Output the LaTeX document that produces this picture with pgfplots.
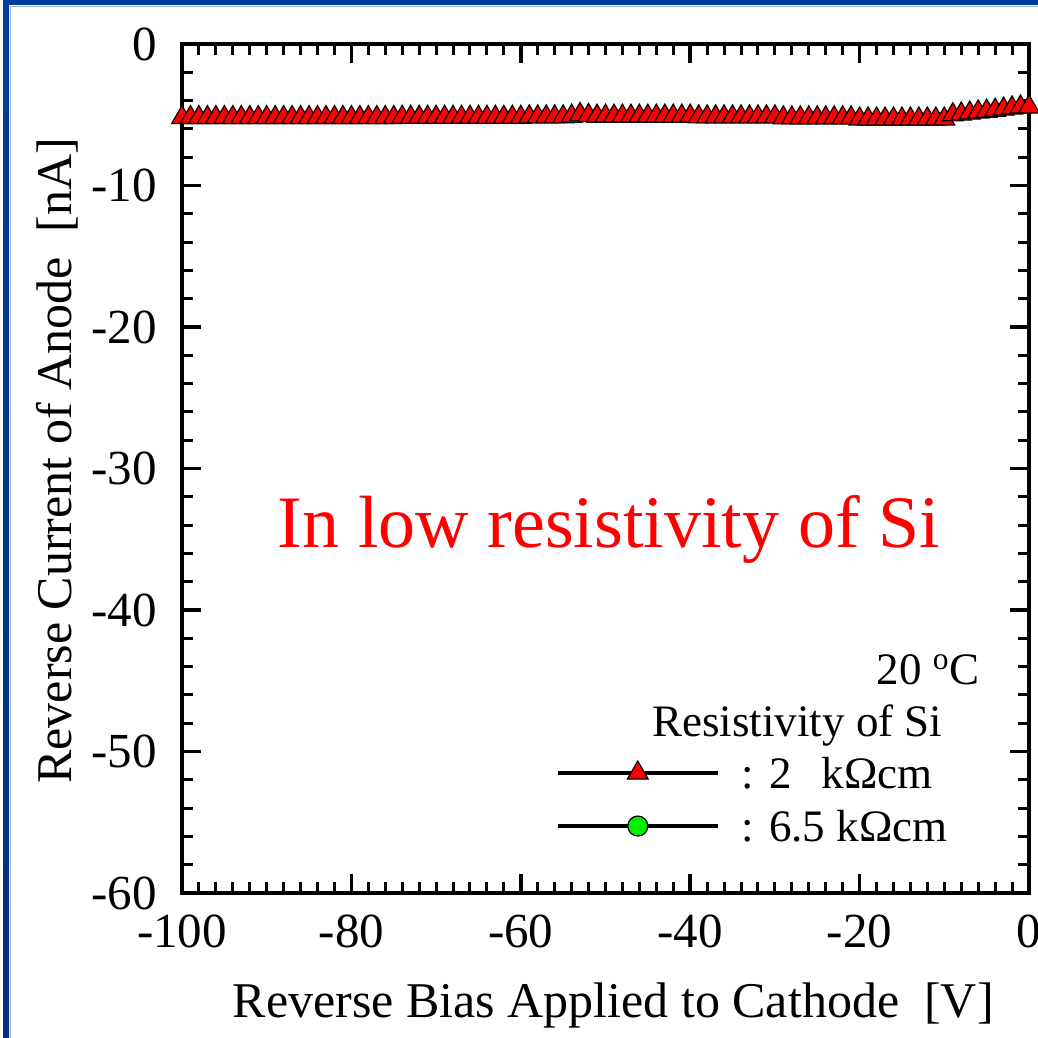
\documentclass[border=0pt]{standalone}
\usepackage{fontspec}
\setmainfont{Liberation Serif}
\usepackage{pgfplots}
\pgfplotsset{compat=1.18}
\definecolor{slideblue}{RGB}{0,62,155}
\definecolor{slidebluebright}{RGB}{0,90,225}
\definecolor{slidebluedark}{RGB}{0,48,120}
\definecolor{framegray}{RGB}{160,176,212}
\definecolor{lgreen}{RGB}{0,240,0}
\begin{document}
\begin{tikzpicture}
\path[use as bounding box] (0,0) rectangle (519pt,519pt);
\fill[white] (0,0) rectangle (519pt,519pt);
\shade[top color=slideblue, middle color=slidebluebright, bottom color=slidebluedark] (1.5pt,0pt) rectangle (4.5pt,519pt);
\fill[slideblue] (1.5pt,516.5pt) rectangle (519pt,519pt);
\fill[framegray] (5pt,0pt) rectangle (5.6pt,516pt);
\fill[framegray] (5pt,515.4pt) rectangle (519pt,516pt);
\begin{axis}[
  at={(91pt,72.5pt)}, anchor=south west,
  scale only axis, width=423.5pt, height=424.5pt,
  xmin=-100, xmax=0, ymin=-60, ymax=0,
  xtick={-100,-80,-60,-40,-20,0},
  xticklabels={-100,-80,-60,-40,-20,0},
  ytick={-60,-50,-40,-30,-20,-10,0},
  yticklabels={-60,-50,-40,-30,-20,-10,0},
  minor x tick num=9, minor y tick num=4,
  tick align=inside,
  major tick length=9.5pt, minor tick length=5.5pt,
  every major tick/.append style={black, line width=1.75pt},
  every minor tick/.append style={black, line width=1.5pt},
  axis line style={line width=2pt},
  ticklabel style={font=\fontsize{24.5}{29}\selectfont, inner sep=0pt},
  xticklabel style={anchor=north, yshift=-11pt},
  yticklabel style={anchor=east, xshift=-12.5pt},
  xlabel={Reverse Bias Applied to Cathode\ \ [V]},
  ylabel={Reverse Current of Anode\ \ [nA]},
  label style={font=\fontsize{25}{30}\selectfont, inner sep=0pt},
  xlabel style={at={(axis description cs:0.509,-0.1472)}, anchor=base},
  ylabel style={at={(axis description cs:-0.1299,0.509)}, anchor=base},
  legend style={draw=none, fill=none, at={(axis cs:-55.84,-50.18)}, anchor=north west,
    inner sep=0pt, outer sep=0pt, row sep=7.5pt, column sep=11pt,
    font=\fontsize{22.5}{27}\selectfont,
    nodes={inner sep=0pt, text height=17pt, text depth=2pt}},
  legend cell align=left,
  legend image code/.code={\draw[mark repeat=2, mark phase=2, #1] plot coordinates {(0pt,0pt) (40pt,0pt) (80pt,0pt)};},
]
\addplot[black, line width=1.2pt, mark=triangle*, mark size=6pt,
  mark options={fill=red, draw=black, line width=0.6pt, solid}, forget plot]
coordinates {
(-100,-5.2) (-99,-5.2) (-98,-5.2) (-97,-5.2) (-96,-5.2) (-95,-5.2) (-94,-5.2) (-93,-5.2) (-92,-5.2) (-91,-5.2)
(-90,-5.2) (-89,-5.2) (-88,-5.2) (-87,-5.2) (-86,-5.2) (-85,-5.2) (-84,-5.2) (-83,-5.2) (-82,-5.2) (-81,-5.2)
(-80,-5.2) (-79,-5.2) (-78,-5.2) (-77,-5.2) (-76,-5.2) (-75,-5.2) (-74,-5.18) (-73,-5.18) (-72,-5.18) (-71,-5.18)
(-70,-5.18) (-69,-5.18) (-68,-5.18) (-67,-5.18) (-66,-5.18) (-65,-5.18) (-64,-5.18) (-63,-5.18) (-62,-5.18) (-61,-5.18)
(-60,-5.18) (-59,-5.15) (-58,-5.15) (-57,-5.15) (-56,-5.15) (-55,-5.15) (-54,-5.1) (-53,-4.98) (-52,-5.05) (-51,-5.1)
(-50,-5.1) (-49,-5.1) (-48,-5.1) (-47,-5.1) (-46,-5.1) (-45,-5.1) (-44,-5.1) (-43,-5.1) (-42,-5.1) (-41,-5.1)
(-40,-5.1) (-39,-5.15) (-38,-5.15) (-37,-5.15) (-36,-5.15) (-35,-5.15) (-34,-5.15) (-33,-5.15) (-32,-5.15) (-31,-5.15)
(-30,-5.15) (-29,-5.22) (-28,-5.22) (-27,-5.22) (-26,-5.22) (-25,-5.22) (-24,-5.22) (-23,-5.22) (-22,-5.22) (-21,-5.22)
(-20,-5.3) (-19,-5.3) (-18,-5.3) (-17,-5.3) (-16,-5.3) (-15,-5.3) (-14,-5.3) (-13,-5.3) (-12,-5.3) (-11,-5.3)
(-10,-5.3) (-9,-5.0) (-8,-4.95) (-7,-4.88) (-6,-4.8) (-5,-4.75) (-4,-4.68) (-3,-4.6) (-2,-4.52) (-1,-4.45)
(0,-4.45)
};
\addlegendimage{black, line width=1.75pt, mark=triangle*, mark size=6pt, mark options={fill=red, draw=black, line width=0.6pt}}
\addlegendentry{: 2\hspace{15pt}kΩcm}
\addlegendimage{black, line width=1.75pt, mark=*, mark size=5pt, mark options={fill=lgreen, draw=black, line width=0.6pt}}
\addlegendentry{: 6.5 kΩcm}
\node[anchor=base east, font=\fontsize{22.5}{27}\selectfont] at (axis cs:-5.0,-45.3) {20 \textsuperscript{o}C};
\node[anchor=base east, font=\fontsize{22.5}{27}\selectfont] at (axis cs:-9.4,-48.97) {Resistivity of Si};
\node[anchor=base, text=red, font=\fontsize{37}{44}\selectfont] at (axis cs:-49.6,-35.6) {In low resistivity of Si};
\end{axis}
\end{tikzpicture}
\end{document}
